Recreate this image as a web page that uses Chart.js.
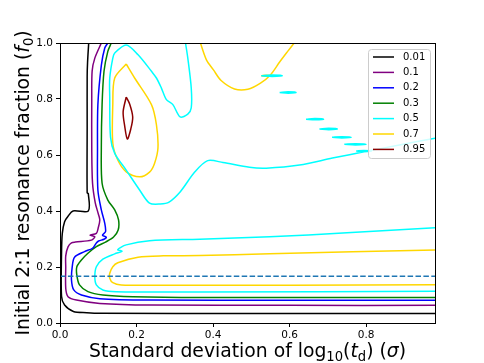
<!DOCTYPE html>
<html>
<head>
<meta charset="utf-8">
<script src="https://cdn.jsdelivr.net/npm/chart.js@4.4.1/dist/chart.umd.min.js"></script>
<style>
  body { margin: 0; background: #fff; }
</style>
</head>
<body>
<canvas id="myChart" width="484" height="363"></canvas>
<script>
// axis ticks
const xTicks = [0, 0.2, 0.4, 0.6, 0.8]
const xTickLabels = ['0.0', '0.2', '0.4', '0.6', '0.8']
const yTicks = [0, 0.2, 0.4, 0.6, 0.8, 1.0]
const yTickLabels = ['0.0', '0.2', '0.4', '0.6', '0.8', '1.0']

// contour levels
const levels = ['0.01', '0.1', '0.2', '0.3', '0.5', '0.7', '0.95']
const levelColors = ['#000000', '#800080', '#0000ff', '#008000', '#00ffff', '#ffd700', '#8b0000']

// contour paths, [sigma, f0]
const black = [[0.075,1.0],[0.072,0.93],[0.071,0.88],[0.071,0.70],[0.071,0.465],[0.074,0.462],[0.074,0.40],[0.034,0.40],[0.021,0.381],[0.012,0.362],[0.006,0.32],[0.004,0.25],[0.004,0.095],[0.012,0.064],[0.035,0.041],[0.07,0.037],[0.104,0.035],[0.5,0.034],[0.98,0.034]]

const purple = [[0.108,1.0],[0.091,0.946],[0.084,0.90],[0.083,0.80],[0.083,0.62],[0.085,0.50],[0.092,0.43],[0.100,0.39],[0.104,0.368],[0.100,0.34],[0.095,0.320],[0.079,0.314],[0.091,0.308],[0.082,0.296],[0.040,0.289],[0.030,0.286],[0.021,0.272],[0.015,0.24],[0.015,0.20],[0.015,0.124],[0.021,0.094],[0.043,0.082],[0.104,0.070],[0.234,0.064],[0.6,0.063],[0.98,0.063]]

const blue = [[0.125,1.0],[0.117,0.982],[0.108,0.92],[0.099,0.78],[0.098,0.625],[0.099,0.475],[0.108,0.404],[0.117,0.356],[0.119,0.326],[0.111,0.314],[0.121,0.306],[0.115,0.299],[0.101,0.293],[0.095,0.286],[0.085,0.267],[0.064,0.255],[0.038,0.235],[0.032,0.201],[0.030,0.154],[0.036,0.118],[0.056,0.100],[0.104,0.087],[0.234,0.082],[0.6,0.081],[0.98,0.081]]

const green = [[0.134,1.0],[0.125,0.970],[0.115,0.899],[0.110,0.78],[0.108,0.625],[0.110,0.499],[0.125,0.439],[0.143,0.404],[0.153,0.368],[0.152,0.332],[0.140,0.307],[0.119,0.289],[0.095,0.2725],[0.073,0.249],[0.056,0.225],[0.044,0.201],[0.044,0.171],[0.051,0.136],[0.073,0.112],[0.112,0.100],[0.191,0.094],[0.365,0.091],[0.98,0.091]]

const cyanLower = [[0.98,0.340],[0.75,0.322],[0.548,0.308],[0.365,0.299],[0.234,0.294],[0.173,0.279],[0.151,0.262],[0.162,0.256],[0.143,0.247],[0.112,0.228],[0.095,0.201],[0.091,0.165],[0.095,0.136],[0.112,0.118],[0.147,0.112],[0.365,0.111],[0.98,0.113]]

const cyanUpper = [[0.328,1.0],[0.334,0.946],[0.343,0.839],[0.343,0.768],[0.334,0.746],[0.314,0.736],[0.295,0.780],[0.278,0.798],[0.265,0.839],[0.252,0.875],[0.239,0.899],[0.204,0.958],[0.173,0.993],[0.143,0.964],[0.138,0.946],[0.130,0.875],[0.130,0.807],[0.132,0.664],[0.143,0.606],[0.173,0.546],[0.208,0.475],[0.234,0.428],[0.262,0.425],[0.285,0.432],[0.315,0.470],[0.352,0.539],[0.386,0.580],[0.426,0.573],[0.495,0.556],[0.539,0.553],[0.626,0.564],[0.712,0.589],[0.801,0.613],[0.887,0.636],[0.98,0.66]]

// little cyan islands along the diagonal
const cyanDash1 = [[0.526,0.883],[0.554,0.8855],[0.581,0.883],[0.554,0.8805],[0.526,0.883]]
const cyanDash2 = [[0.574,0.823],[0.596,0.8255],[0.617,0.823],[0.596,0.8205],[0.574,0.823]]
const cyanDash3 = [[0.643,0.728],[0.666,0.7305],[0.689,0.728],[0.666,0.7255],[0.643,0.728]]
const cyanDash4 = [[0.678,0.693],[0.702,0.6955],[0.725,0.693],[0.702,0.6905],[0.678,0.693]]
const cyanDash5 = [[0.711,0.663],[0.736,0.6655],[0.761,0.663],[0.736,0.6605],[0.711,0.663]]
const cyanDash6 = [[0.743,0.638],[0.772,0.6405],[0.800,0.638],[0.772,0.6355],[0.743,0.638]]
const cyanDash7 = [[0.774,0.614],[0.794,0.6165],[0.814,0.614],[0.794,0.6115],[0.774,0.614]]

const goldLower = [[0.98,0.261],[0.548,0.2475],[0.365,0.241],[0.27,0.240],[0.204,0.235],[0.151,0.215],[0.138,0.201],[0.130,0.1775],[0.130,0.160],[0.138,0.144],[0.160,0.136],[0.27,0.135],[0.6,0.135],[0.98,0.137]]

const goldLoop = [[0.173,0.925],[0.195,0.875],[0.239,0.780],[0.252,0.708],[0.256,0.625],[0.247,0.570],[0.234,0.539],[0.208,0.522],[0.173,0.540],[0.151,0.582],[0.138,0.642],[0.138,0.780],[0.143,0.875],[0.173,0.925]]

const goldUpper = [[0.367,1.0],[0.383,0.939],[0.401,0.904],[0.421,0.866],[0.456,0.836],[0.491,0.835],[0.524,0.857],[0.550,0.886],[0.574,0.932],[0.595,0.970],[0.612,1.0]]

const goldDash = [[0.526,0.883],[0.539,0.885],[0.552,0.883],[0.539,0.881],[0.526,0.883]]

const darkred = [[0.173,0.807],[0.165,0.754],[0.169,0.704],[0.176,0.657],[0.185,0.693],[0.190,0.736],[0.182,0.782],[0.173,0.807]]

// dashed reference line at f0 = 1/6
const refX = [0, 0.98]
const refY = [1/6, 1/6]

function joinParts(parts) {
    let pts = []
    parts.forEach((p, i) => {
        if (i > 0) pts.push({x: p[0][0], y: null})
        p.forEach(v => pts.push({x: v[0], y: v[1]}))
    })
    return pts
}

const levelPaths = [
    [black],
    [purple],
    [blue],
    [green],
    [cyanLower, cyanUpper, cyanDash1, cyanDash2, cyanDash3, cyanDash4, cyanDash5, cyanDash6, cyanDash7],
    [goldLower, goldLoop, goldUpper, goldDash],
    [darkred]
]

const FONT = "'DejaVu Sans', sans-serif"

function drawRich(ctx, parts, size) {
    // parts: [text, style] where style is '', 'i' (italic) or 's' (subscript)
    const sub = size * 0.7
    const fontFor = st => (st === 'i' ? 'italic ' : '') + (st === 's' ? sub : size) + 'px ' + FONT
    let w = 0
    parts.forEach(p => { ctx.font = fontFor(p[1]); w += ctx.measureText(p[0]).width })
    let x = -w / 2
    parts.forEach(p => {
        ctx.font = fontFor(p[1])
        ctx.fillText(p[0], x, p[1] === 's' ? size * 0.22 : 0)
        x += ctx.measureText(p[0]).width
    })
}

const overlay = {
    id: 'overlay',
    afterDraw(chart) {
        const ctx = chart.ctx
        const a = chart.chartArea
        ctx.save()
        // axes frame
        ctx.strokeStyle = '#000'
        ctx.lineWidth = 1
        ctx.strokeRect(a.left + 0.5, a.top + 0.5, a.right - a.left, a.bottom - a.top)

        // legend
        const bx = a.right - 67, by = a.top + 6, bw = 62, bh = 109
        ctx.beginPath()
        ctx.roundRect(bx + 0.5, by + 0.5, bw, bh, 3)
        ctx.fillStyle = 'rgba(255,255,255,0.8)'
        ctx.fill()
        ctx.strokeStyle = '#cccccc'
        ctx.stroke()
        ctx.font = '10px ' + FONT
        ctx.textBaseline = 'middle'
        ctx.textAlign = 'left'
        levels.forEach((lab, i) => {
            const y = by + 8 + i * 15.4
            ctx.strokeStyle = levelColors[i]
            ctx.lineWidth = 1.5
            ctx.beginPath()
            ctx.moveTo(bx + 5, y)
            ctx.lineTo(bx + 26, y)
            ctx.stroke()
            ctx.fillStyle = '#000'
            ctx.fillText(lab, bx + 35, y)
        })

        // axis titles
        ctx.fillStyle = '#000'
        ctx.textBaseline = 'alphabetic'
        ctx.save()
        ctx.translate((a.left + a.right) / 2, 357)
        drawRich(ctx, [['Standard deviation of log', ''], ['10', 's'], ['(', ''], ['t', 'i'], ['d', 's'], [') (', ''], ['σ', 'i'], [')', '']], 18.8)
        ctx.restore()
        ctx.save()
        ctx.translate(29, (a.top + a.bottom) / 2)
        ctx.rotate(-Math.PI / 2)
        drawRich(ctx, [['Initial 2:1 resonance fraction (', ''], ['f', 'i'], ['0', 's'], [')', '']], 18.8)
        ctx.restore()
        ctx.restore()
    }
}

function drawChart() {
    const ctx = document.getElementById('myChart')

    const datasets = levels.map((lab, i) => ({
        label: lab,
        data: joinParts(levelPaths[i]),
        showLine: true,
        borderColor: levelColors[i],
        borderWidth: 1.5,
        pointRadius: 0,
        tension: 0.3,
        fill: false
    }))
    datasets.push({
        label: 'ref',
        data: refX.map((x, i) => ({x: x, y: refY[i]})),
        showLine: true,
        borderColor: '#1f77b4',
        borderWidth: 1.5,
        borderDash: [5.5, 2.4],
        pointRadius: 0,
        order: -1
    })

    const tickFont = {family: FONT, size: 10.5}

    const config = {
        type: 'scatter',
        data: {datasets: datasets},
        options: {
            responsive: false,
            animation: false,
            devicePixelRatio: 1,
            layout: {padding: {top: 43, right: 49, left: 0, bottom: 0}},
            plugins: {legend: {display: false}, tooltip: {enabled: false}},
            scales: {
                x: {
                    type: 'linear', min: 0, max: 0.98,
                    afterBuildTicks: s => { s.ticks = xTicks.map(v => ({value: v})) },
                    afterFit: s => { s.height = 40 },
                    ticks: {callback: (v, i) => xTickLabels[i], font: tickFont, color: '#000', padding: 2, maxRotation: 0, autoSkip: false},
                    grid: {display: true, drawOnChartArea: false, drawTicks: true, tickLength: 4, tickColor: '#000'},
                    border: {display: false}
                },
                y: {
                    type: 'linear', min: 0, max: 1,
                    afterBuildTicks: s => { s.ticks = yTicks.map(v => ({value: v})) },
                    afterFit: s => { s.width = 60 },
                    ticks: {callback: (v, i) => yTickLabels[i], font: tickFont, color: '#000', padding: 3, autoSkip: false},
                    grid: {display: true, drawOnChartArea: false, drawTicks: true, tickLength: 4, tickColor: '#000'},
                    border: {display: false}
                }
            }
        },
        plugins: [overlay]
    }

    new Chart(ctx, config)
}

document.addEventListener('DOMContentLoaded', drawChart)
</script>
</body>
</html>
